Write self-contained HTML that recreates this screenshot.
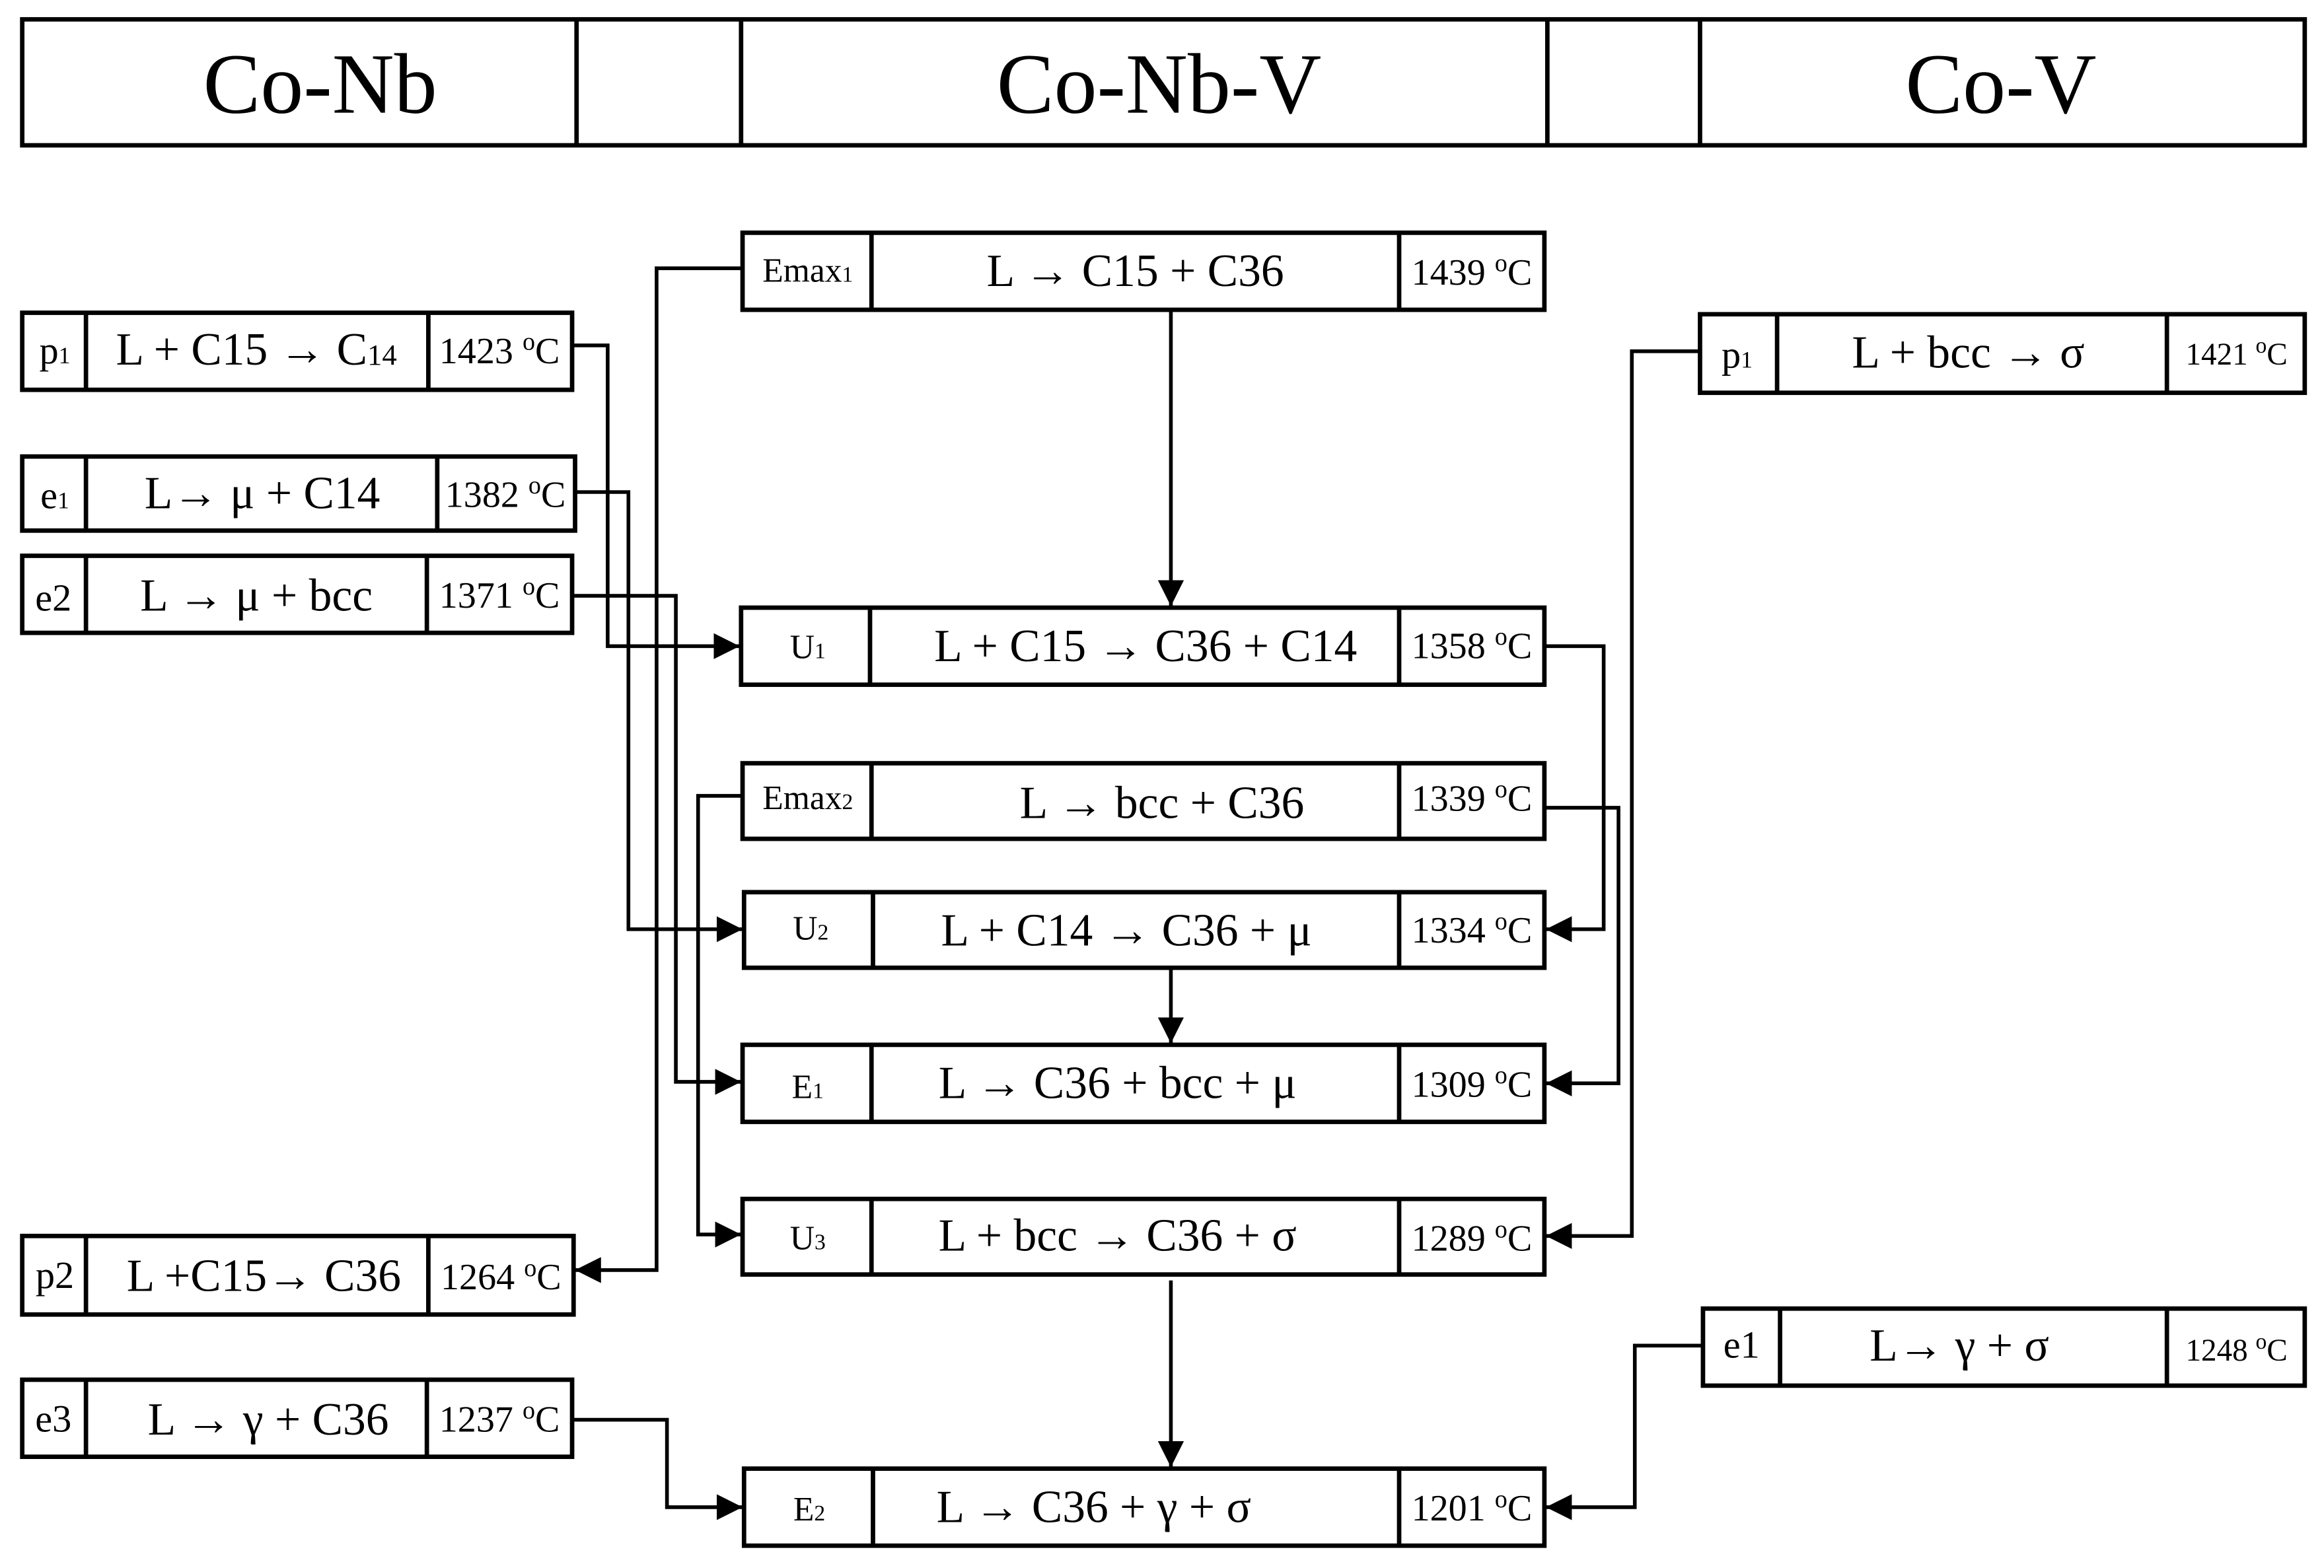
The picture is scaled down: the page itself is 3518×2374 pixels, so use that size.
<!DOCTYPE html>
<html><head><meta charset="utf-8"><style>html,body{margin:0;padding:0;background:#fff}svg{display:block}</style></head><body>
<svg xmlns="http://www.w3.org/2000/svg" width="3518" height="2374" viewBox="0 0 1568 1058" font-family="'Liberation Serif', serif" fill="#000">
<defs><marker id="a" viewBox="0 0 10 10" refX="10" refY="5" markerWidth="7" markerHeight="7" markerUnits="strokeWidth" orient="auto"><path d="M0,0 L10,5 L0,10 z" fill="#000"/></marker></defs>
<g fill="none" stroke="#000" stroke-width="3">
<rect x="15" y="13" width="1540" height="85"/>
<path d="M389 13V98M500 13V98M1044 13V98M1147 13V98"/>
<rect x="501" y="157" width="541" height="52"/><path d="M588 157V209M944 157V209"/>
<rect x="15" y="211" width="371" height="52"/><path d="M58 211V263M289 211V263"/>
<rect x="15" y="308" width="373" height="50"/><path d="M58 308V358M295 308V358"/>
<rect x="15" y="375" width="371" height="52"/><path d="M58 375V427M288 375V427"/>
<rect x="500" y="410" width="542" height="52"/><path d="M587 410V462M944 410V462"/>
<rect x="501" y="515" width="541" height="51"/><path d="M588 515V566M944 515V566"/>
<rect x="502" y="602" width="540" height="51"/><path d="M589 602V653M944 602V653"/>
<rect x="501" y="705" width="541" height="52"/><path d="M588 705V757M944 705V757"/>
<rect x="501" y="809" width="541" height="51"/><path d="M588 809V860M944 809V860"/>
<rect x="502" y="991" width="540" height="52"/><path d="M589 991V1043M944 991V1043"/>
<rect x="15" y="834" width="372" height="53"/><path d="M58 834V887M289 834V887"/>
<rect x="15" y="931" width="371" height="52"/><path d="M58 931V983M288 931V983"/>
<rect x="1147" y="212" width="408" height="53"/><path d="M1199 212V265M1462 212V265"/>
<rect x="1149" y="883" width="406" height="52"/><path d="M1201 883V935M1462 883V935"/>
</g>
<g fill="none" stroke="#000" stroke-width="2.5" marker-end="url(#a)">
<path d="M501 181H443V857H388"/>
<path d="M386 233H410V436H499"/>
<path d="M388 332H424V627H501"/>
<path d="M386 402H456V730H500"/>
<path d="M501 537H471V833H500"/>
<path d="M790 209V409"/>
<path d="M790 653V704"/>
<path d="M790 864V990"/>
<path d="M1042 436H1082V627H1043"/>
<path d="M1042 545H1092V731H1043"/>
<path d="M1147 237H1101V834H1043"/>
<path d="M1149 908H1103V1017H1043"/>
<path d="M386 958H450V1017H501"/>
</g>
<g font-size="58" text-anchor="middle">
<text x="216" y="76">Co-Nb</text><text x="782" y="76">Co-Nb-V</text><text x="1350" y="76">Co-V</text>
</g>
<g font-size="31" text-anchor="middle">
<text x="766" y="193">L → C15 + C36</text>
<text x="173" y="246">L + C15 → C<tspan font-size="20">14</tspan></text>
<text x="177" y="343">L→ μ + C14</text>
<text x="173" y="412">L → μ + bcc</text>
<text x="773" y="446">L + C15 → C36 + C14</text>
<text x="784" y="552">L → bcc + C36</text>
<text x="760" y="638">L + C14 → C36 + μ</text>
<text x="754" y="741">L → C36 + bcc + μ</text>
<text x="754" y="844">L + bcc → C36 + σ</text>
<text x="738" y="1027">L → C36 + γ + σ</text>
<text x="178" y="871">L +C15→ C36</text>
<text x="181" y="968">L → γ + C36</text>
<text x="1328" y="248">L + bcc → σ</text>
<text x="1322" y="918">L→ γ + σ</text>
</g>
<g font-size="26" text-anchor="middle">
<text x="37" y="245">p<tspan font-size="16">1</tspan></text>
<text x="37" y="343">e<tspan font-size="16">1</tspan></text>
<text x="36" y="412">e2</text>
<text x="37" y="869">p2</text>
<text x="36" y="966">e3</text>
<text x="1172" y="248">p<tspan font-size="16">1</tspan></text>
<text x="1175" y="916">e1</text>
</g>
<g font-size="23" text-anchor="middle">
<text x="545" y="190">Emax<tspan font-size="15">1</tspan></text>
<text x="545" y="546">Emax<tspan font-size="15">2</tspan></text>
<text x="545" y="444">U<tspan font-size="15">1</tspan></text>
<text x="547" y="634">U<tspan font-size="15">2</tspan></text>
<text x="545" y="741">E<tspan font-size="15">1</tspan></text>
<text x="545" y="843">U<tspan font-size="15">3</tspan></text>
<text x="546" y="1026">E<tspan font-size="15">2</tspan></text>
</g>
<g font-size="25" text-anchor="middle">
<text x="993" y="192">1439 <tspan font-size="17" dy="-9">o</tspan><tspan dy="9">C</tspan></text>
<text x="337" y="245">1423 <tspan font-size="17" dy="-9">o</tspan><tspan dy="9">C</tspan></text>
<text x="341" y="342">1382 <tspan font-size="17" dy="-9">o</tspan><tspan dy="9">C</tspan></text>
<text x="337" y="410">1371 <tspan font-size="17" dy="-9">o</tspan><tspan dy="9">C</tspan></text>
<text x="993" y="444">1358 <tspan font-size="17" dy="-9">o</tspan><tspan dy="9">C</tspan></text>
<text x="993" y="547">1339 <tspan font-size="17" dy="-9">o</tspan><tspan dy="9">C</tspan></text>
<text x="993" y="636">1334 <tspan font-size="17" dy="-9">o</tspan><tspan dy="9">C</tspan></text>
<text x="993" y="740">1309 <tspan font-size="17" dy="-9">o</tspan><tspan dy="9">C</tspan></text>
<text x="993" y="844">1289 <tspan font-size="17" dy="-9">o</tspan><tspan dy="9">C</tspan></text>
<text x="993" y="1026">1201 <tspan font-size="17" dy="-9">o</tspan><tspan dy="9">C</tspan></text>
<text x="338" y="870">1264 <tspan font-size="17" dy="-9">o</tspan><tspan dy="9">C</tspan></text>
<text x="337" y="966">1237 <tspan font-size="17" dy="-9">o</tspan><tspan dy="9">C</tspan></text>
</g>
<g font-size="21" text-anchor="middle">
<text x="1509" y="246">1421 <tspan font-size="15" dy="-8">o</tspan><tspan dy="8">C</tspan></text>
<text x="1509" y="918">1248 <tspan font-size="15" dy="-8">o</tspan><tspan dy="8">C</tspan></text>
</g>
</svg>
</body></html>
